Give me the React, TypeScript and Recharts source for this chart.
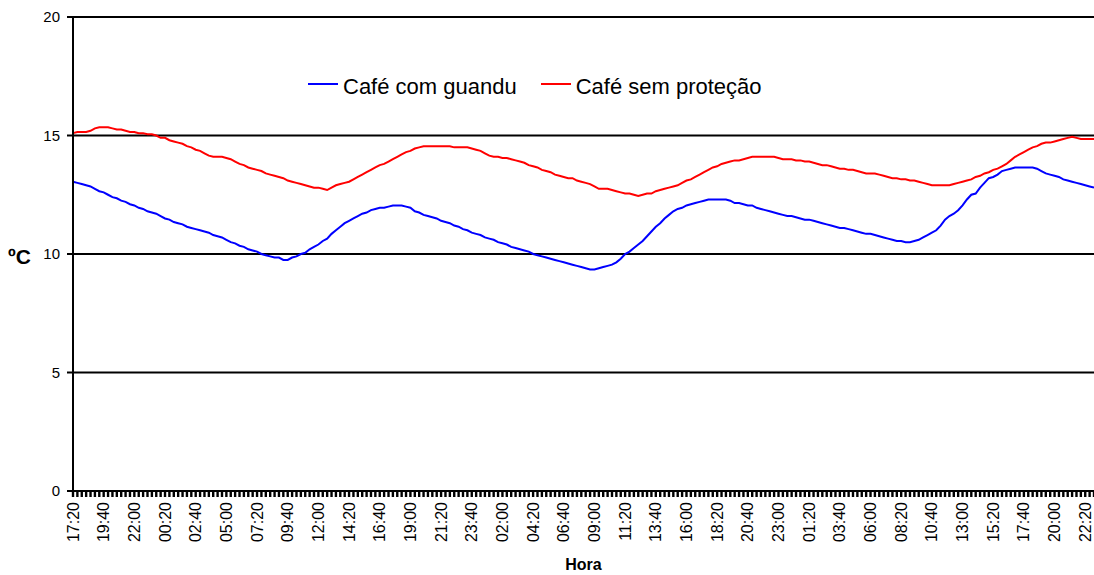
import { LineChart, Line, CartesianGrid, XAxis, YAxis, Legend, Label } from "recharts";

// leituras a cada 20 min, começando às 17:20
const START_MIN = 17 * 60 + 20;
const STEP_MIN = 20;

const guandu = [
  13.05, 13.0, 12.95, 12.9, 12.85, 12.75, 12.65,
  12.6, 12.5, 12.4, 12.35, 12.25, 12.2, 12.1,
  12.05, 11.95, 11.9, 11.8, 11.75, 11.7, 11.6,
  11.5, 11.45, 11.35, 11.3, 11.25, 11.15, 11.1,
  11.05, 11.0, 10.95, 10.9, 10.8, 10.75, 10.7,
  10.6, 10.5, 10.45, 10.35, 10.3, 10.2, 10.15,
  10.1, 10.0, 9.95, 9.9, 9.85, 9.85, 9.75,
  9.75, 9.85, 9.9, 10.0, 10.05, 10.2, 10.3,
  10.4, 10.55, 10.65, 10.85, 11.0, 11.15, 11.3,
  11.4, 11.5, 11.6, 11.7, 11.75, 11.85, 11.9,
  11.95, 11.95, 12.0, 12.05, 12.05, 12.05, 12.0,
  11.95, 11.8, 11.75, 11.65, 11.6, 11.55, 11.5,
  11.4, 11.35, 11.3, 11.2, 11.15, 11.05, 11.0,
  10.9, 10.85, 10.8, 10.7, 10.65, 10.6, 10.5,
  10.45, 10.4, 10.3, 10.25, 10.2, 10.15, 10.1,
  10.0, 9.95, 9.9, 9.85, 9.8, 9.75, 9.7,
  9.65, 9.6, 9.55, 9.5, 9.45, 9.4, 9.35,
  9.35, 9.4, 9.45, 9.5, 9.55, 9.65, 9.8,
  10.0, 10.1, 10.25, 10.4, 10.55, 10.75, 10.95,
  11.15, 11.3, 11.5, 11.65, 11.8, 11.9, 11.95,
  12.05, 12.1, 12.15, 12.2, 12.25, 12.3, 12.3,
  12.3, 12.3, 12.3, 12.25, 12.15, 12.15, 12.1,
  12.05, 12.05, 11.95, 11.9, 11.85, 11.8, 11.75,
  11.7, 11.65, 11.6, 11.6, 11.55, 11.5, 11.45,
  11.45, 11.4, 11.35, 11.3, 11.25, 11.2, 11.15,
  11.1, 11.1, 11.05, 11.0, 10.95, 10.9, 10.85,
  10.85, 10.8, 10.75, 10.7, 10.65, 10.6, 10.55,
  10.55, 10.5, 10.5, 10.55, 10.6, 10.7, 10.8,
  10.9, 11.0, 11.2, 11.45, 11.6, 11.7, 11.85,
  12.05, 12.3, 12.5, 12.55, 12.8, 13.0, 13.2,
  13.25, 13.35, 13.5, 13.55, 13.6, 13.65, 13.65,
  13.65, 13.65, 13.65, 13.6, 13.5, 13.4, 13.35,
  13.3, 13.25, 13.15, 13.1, 13.05, 13.0, 12.95,
  12.9, 12.85, 12.8,
];

const semProtecao = [
  15.1, 15.15, 15.15, 15.15, 15.2, 15.3, 15.35,
  15.35, 15.35, 15.3, 15.25, 15.25, 15.2, 15.15,
  15.15, 15.1, 15.1, 15.05, 15.05, 15.0, 14.9,
  14.9, 14.8, 14.75, 14.7, 14.65, 14.55, 14.5,
  14.4, 14.35, 14.25, 14.15, 14.1, 14.1, 14.1,
  14.05, 14.0, 13.9, 13.8, 13.75, 13.65, 13.6,
  13.55, 13.5, 13.4, 13.35, 13.3, 13.25, 13.2,
  13.1, 13.05, 13.0, 12.95, 12.9, 12.85, 12.8,
  12.8, 12.75, 12.7, 12.8, 12.9, 12.95, 13.0,
  13.05, 13.15, 13.25, 13.35, 13.45, 13.55, 13.65,
  13.75, 13.8, 13.9, 14.0, 14.1, 14.2, 14.3,
  14.35, 14.45, 14.5, 14.55, 14.55, 14.55, 14.55,
  14.55, 14.55, 14.55, 14.5, 14.5, 14.5, 14.5,
  14.45, 14.4, 14.35, 14.25, 14.15, 14.1, 14.1,
  14.05, 14.05, 14.0, 13.95, 13.9, 13.85, 13.75,
  13.7, 13.65, 13.55, 13.5, 13.45, 13.35, 13.3,
  13.25, 13.2, 13.2, 13.1, 13.05, 13.0, 12.95,
  12.85, 12.75, 12.75, 12.75, 12.7, 12.65, 12.6,
  12.55, 12.55, 12.5, 12.45, 12.5, 12.55, 12.55,
  12.65, 12.7, 12.75, 12.8, 12.85, 12.9, 13.0,
  13.1, 13.15, 13.25, 13.35, 13.45, 13.55, 13.65,
  13.7, 13.8, 13.85, 13.9, 13.95, 13.95, 14.0,
  14.05, 14.1, 14.1, 14.1, 14.1, 14.1, 14.1,
  14.05, 14.0, 14.0, 14.0, 13.95, 13.95, 13.9,
  13.9, 13.85, 13.8, 13.75, 13.75, 13.7, 13.65,
  13.6, 13.6, 13.55, 13.55, 13.5, 13.45, 13.4,
  13.4, 13.4, 13.35, 13.3, 13.25, 13.2, 13.2,
  13.15, 13.15, 13.1, 13.1, 13.05, 13.0, 12.95,
  12.9, 12.9, 12.9, 12.9, 12.9, 12.95, 13.0,
  13.05, 13.1, 13.15, 13.25, 13.3, 13.4, 13.45,
  13.55, 13.6, 13.7, 13.8, 13.95, 14.1, 14.2,
  14.3, 14.4, 14.5, 14.55, 14.65, 14.7, 14.7,
  14.75, 14.8, 14.85, 14.9, 14.95, 14.9, 14.85,
  14.85, 14.85, 14.85,
];

const yTicks = [0, 5, 10, 15, 20];
const LABEL_EVERY = 7;

const pad = (n: number) => String(n).padStart(2, "0");
const hora = (i: number) => {
  const m = (START_MIN + i * STEP_MIN) % 1440;
  return `${pad(Math.floor(m / 60))}:${pad(m % 60)}`;
};

const data = guandu.map((v, i) => ({
  hora: hora(i),
  guandu: v,
  semProtecao: semProtecao[i],
}));

const FONT = "'Liberation Sans', Arial, sans-serif";

const HoraTick = (props: any) => {
  const { x, y, payload } = props;
  const idx = payload?.index ?? props.index;
  if (idx % LABEL_EVERY !== 0) return <g />;
  return (
    <text
      x={x}
      y={y}
      transform={`rotate(-90, ${x}, ${y})`}
      textAnchor="end"
      dominantBaseline="central"
      fontSize={16}
      fontFamily={FONT}
      fill="#000"
    >
      {payload.value}
    </text>
  );
};

const renderLegend = (props: any) => {
  const { payload } = props;
  return (
    <div style={{ display: "flex", gap: 24, fontFamily: FONT, fontSize: 22, color: "#000" }}>
      {payload.map((p: any) => (
        <div key={p.value} style={{ display: "flex", alignItems: "flex-start" }}>
          <span
            style={{
              display: "inline-block",
              width: 30,
              height: 2,
              background: p.color,
              marginTop: 7,
              marginRight: 5,
            }}
          />
          <span style={{ lineHeight: "22px" }}>{p.value}</span>
        </div>
      ))}
    </div>
  );
};

export default function App() {
  return (
    <div style={{ position: "absolute", left: 0, top: 0, background: "#fff" }}>
      <LineChart
        width={1094}
        height={575}
        data={data}
        margin={{ top: 17, right: 0, bottom: 0, left: 0 }}
      >
        <CartesianGrid vertical={false} stroke="#000" strokeWidth={2} />
        <XAxis
          dataKey="hora"
          interval={0}
          height={84}
          tickSize={6}
          tickMargin={5}
          tick={HoraTick}
          axisLine={{ stroke: "#000", strokeWidth: 2 }}
          tickLine={{ stroke: "#000", strokeWidth: 2.4 }}
        >
          <Label
            content={(p: any) => (
              <text
                x={p.viewBox.x + p.viewBox.width / 2}
                y={570}
                textAnchor="middle"
                fontSize={16}
                fontWeight="bold"
                fontFamily={FONT}
                fill="#000"
              >
                Hora
              </text>
            )}
          />
        </XAxis>
        <YAxis
          width={73}
          domain={[0, 20]}
          ticks={yTicks}
          interval={0}
          tickSize={6}
          tickMargin={7}
          tick={{ fontSize: 15, fontFamily: FONT, fill: "#000" }}
          axisLine={{ stroke: "#000", strokeWidth: 2 }}
          tickLine={{ stroke: "#000", strokeWidth: 2 }}
        >
          <Label
            content={() => (
              <text x={8} y={264} fontSize={21} fontWeight="bold" fontFamily={FONT} fill="#000">
                ºC
              </text>
            )}
          />
        </YAxis>
        <Legend
          layout="horizontal"
          verticalAlign="middle"
          align="center"
          content={renderLegend}
          wrapperStyle={{ top: 76, left: 308, width: 600 }}
        />
        <Line
          type="linear"
          dataKey="guandu"
          name="Café com guandu"
          stroke="#0000ff"
          strokeWidth={2}
          dot={false}
          isAnimationActive={false}
        />
        <Line
          type="linear"
          dataKey="semProtecao"
          name="Café sem proteção"
          stroke="#ff0000"
          strokeWidth={2}
          dot={false}
          isAnimationActive={false}
        />
      </LineChart>
    </div>
  );
}
